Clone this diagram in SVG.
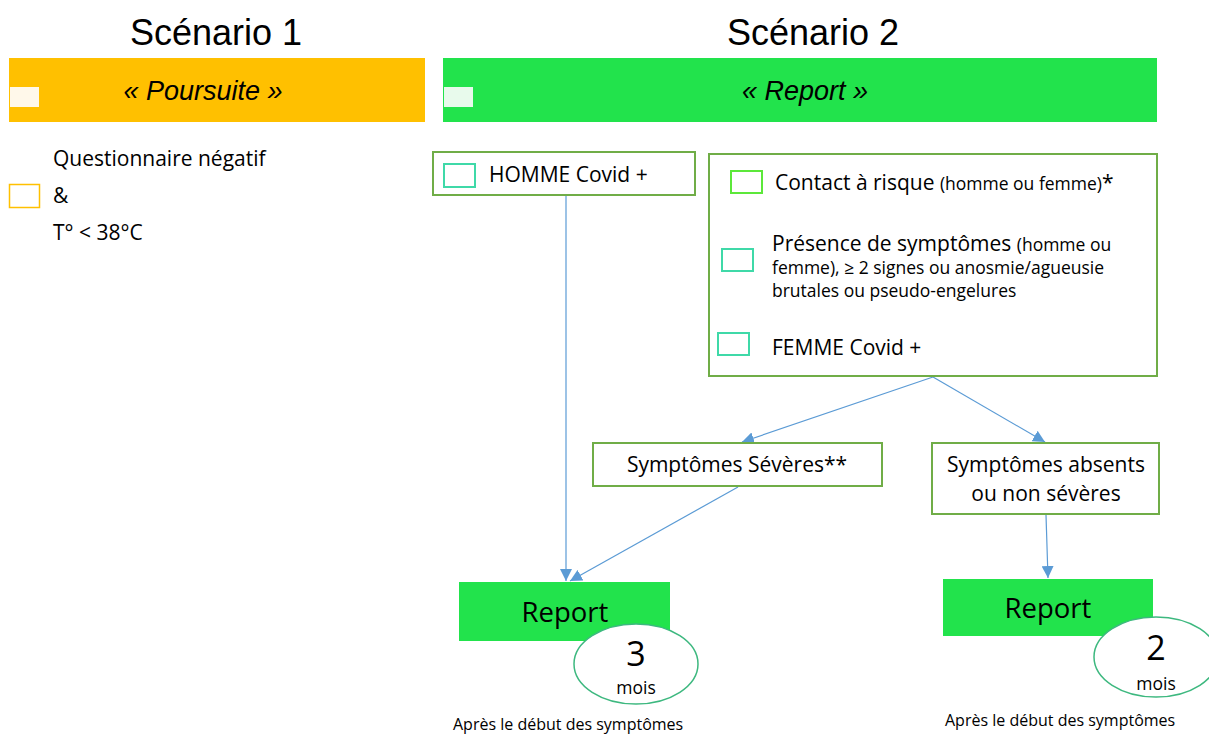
<svg xmlns="http://www.w3.org/2000/svg" width="1209" height="735" viewBox="0 0 1209 735">
<style>
text{font-family:"Open Sans","Liberation Sans",Arial,sans-serif;fill:#000}
.title{font-size:36px;text-anchor:middle;font-family:"Liberation Sans",Arial,sans-serif}
.banner{font-size:27px;font-style:italic;text-anchor:middle;font-family:"Liberation Sans",Arial,sans-serif}
.box{fill:#fff;stroke:#70AD47;stroke-width:2}
.teal{fill:#fff;stroke:#3FD9A8;stroke-width:2}
.lime{fill:#fff;stroke:#5CE83A;stroke-width:2}
.t20{font-size:21px}
.t17{font-size:17.5px}
.rep{fill:#22E34C}
.ell{fill:#fff;stroke:#3DB87F;stroke-width:1.5}
.conn{stroke:#5B9BD5;stroke-width:1.2;fill:none;marker-end:url(#ah)}
</style>
<defs>
<marker id="ah" viewBox="0 0 10 10" refX="10" refY="5" markerWidth="12" markerHeight="12" markerUnits="userSpaceOnUse" orient="auto">
<path d="M0,0 L10,5 L0,10 z" fill="#5B9BD5"/>
</marker>
</defs>
<rect width="1209" height="735" fill="#fff"/>

<g id="scenario1">
<text class="title" x="216" y="45">Scénario 1</text>
<rect x="9" y="58" width="416" height="64" fill="#FFC000"/>
<rect x="10" y="87" width="29" height="20" fill="#FFF8EA"/>
<text class="banner" x="203" y="100">« Poursuite »</text>
<rect x="9.5" y="184.5" width="30" height="23" fill="#fff" stroke="#FFC000" stroke-width="1.5"/>
<text x="53" y="166" font-size="21">Questionnaire négatif</text>
<text x="53" y="203" font-size="21">&amp;</text>
<text x="53" y="240" font-size="21">T° &lt; 38°C</text>
</g>

<g id="scenario2">
<text class="title" x="813" y="45">Scénario 2</text>
<rect x="443" y="58" width="714" height="64" fill="#22E34C"/>
<rect x="444" y="87" width="29" height="20" fill="#E8FAEC"/>
<text class="banner" x="805" y="100">« Report »</text>
</g>

<g id="connectors">
<line class="conn" x1="566" y1="196" x2="566" y2="581"/>
<line class="conn" x1="933" y1="377" x2="742" y2="442"/>
<line class="conn" x1="933" y1="377" x2="1045" y2="442"/>
<line class="conn" x1="738" y1="487" x2="570" y2="581"/>
<line class="conn" x1="1046" y1="515" x2="1048" y2="578"/>
</g>

<g id="homme">
<rect class="box" x="433" y="152" width="262" height="43"/>
<rect class="teal" x="444" y="164" width="31" height="23"/>
<text class="t20" x="489" y="182">HOMME Covid +</text>
</g>

<g id="criteres">
<rect class="box" x="709" y="154" width="448" height="222"/>
<rect class="lime" x="731" y="171" width="31" height="22"/>
<text x="775" y="190"><tspan class="t20">Contact à risque </tspan><tspan class="t17">(homme ou femme)</tspan><tspan class="t20">*</tspan></text>
<rect class="teal" x="722" y="249" width="31" height="22"/>
<text x="772" y="251"><tspan class="t20">Présence de symptômes </tspan><tspan class="t17">(homme ou</tspan></text>
<text class="t17" x="772" y="274">femme), ≥ 2 signes ou anosmie/agueusie</text>
<text class="t17" x="772" y="297">brutales ou pseudo-engelures</text>
<rect class="teal" x="718" y="333" width="31" height="22"/>
<text class="t20" x="772" y="355">FEMME Covid +</text>
</g>

<g id="severes">
<rect class="box" x="593" y="443" width="289" height="43"/>
<text class="t20" x="737" y="472" text-anchor="middle">Symptômes Sévères**</text>
</g>

<g id="absents">
<rect class="box" x="932" y="443" width="227" height="71"/>
<text class="t20" x="1046" y="472" text-anchor="middle">Symptômes absents</text>
<text class="t20" x="1046" y="501" text-anchor="middle">ou non sévères</text>
</g>

<g id="report3">
<rect class="rep" x="459" y="582" width="211" height="59"/>
<text x="565" y="622" font-size="27.5" text-anchor="middle">Report</text>
<ellipse class="ell" cx="636" cy="664" rx="62" ry="40"/>
<text x="636" y="666" font-size="34" text-anchor="middle">3</text>
<text x="636" y="694" font-size="17.5" text-anchor="middle">mois</text>
<text x="453" y="730" font-size="16">Après le début des symptômes</text>
</g>

<g id="report2">
<rect class="rep" x="943" y="579" width="210" height="57"/>
<text x="1048" y="618" font-size="27.5" text-anchor="middle">Report</text>
<ellipse class="ell" cx="1156" cy="657" rx="62" ry="40"/>
<text x="1156" y="660" font-size="34" text-anchor="middle">2</text>
<text x="1156" y="690" font-size="17.5" text-anchor="middle">mois</text>
<text x="945" y="726" font-size="16">Après le début des symptômes</text>
</g>
</svg>
